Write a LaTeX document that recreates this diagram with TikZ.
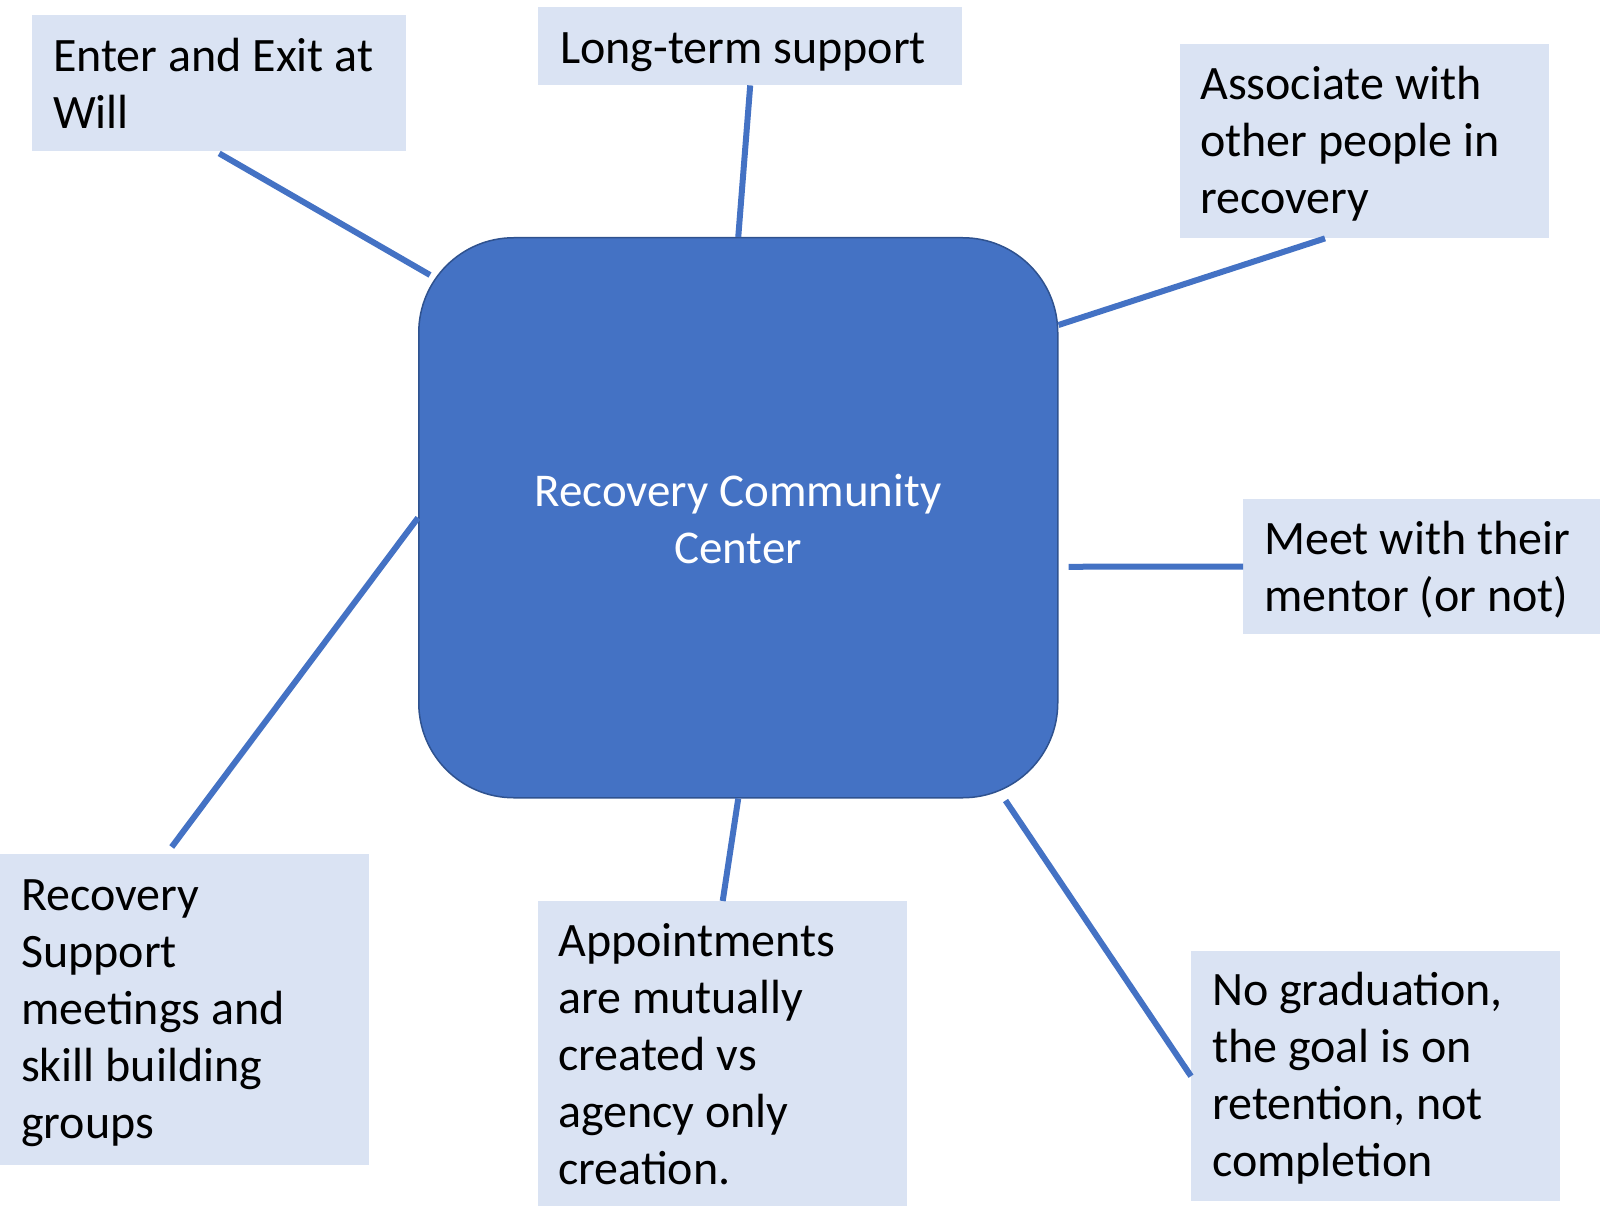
\documentclass[tikz,border=0pt]{standalone}
\usepackage{fontspec}
\setmainfont{Carlito}
\definecolor{boxfill}{HTML}{DAE3F3}
\definecolor{mainblue}{HTML}{4472C4}
\definecolor{mainborder}{HTML}{2F528F}
\begin{document}
\begin{tikzpicture}[x=1pt,y=-1pt,
  infobox/.style={fill=boxfill,draw=none,inner sep=0pt,anchor=north west},
  txt/.style={inner sep=0pt,align=left,anchor=base west,font=\fontsize{48}{57}\selectfont},
  link/.style={draw=mainblue,line width=6pt}]
\useasboundingbox (0,0) rectangle (1600,1206);
% central rounded box
\node[fill=mainblue,draw=mainborder,line width=1.5pt,rounded corners=95pt,
      minimum width=639pt,minimum height=560pt,inner sep=0pt,anchor=north west] (rcc) at (418,237) {};
\node[inner sep=0pt,align=center,anchor=base,text=white,font=\fontsize{47}{57}\selectfont] (rcct) at (738,563) {Recovery Community\\Center};
% boxes
\node[infobox,minimum width=374pt,minimum height=136pt] (b1) at (32,15) {};
\node[infobox,minimum width=424pt,minimum height=78pt] (b2) at (538,7) {};
\node[infobox,minimum width=369pt,minimum height=194pt] (b3) at (1180,44) {};
\node[infobox,minimum width=357pt,minimum height=135pt] (b4) at (1243,499) {};
\node[infobox,minimum width=369pt,minimum height=250pt] (b5) at (1191,951) {};
\node[infobox,minimum width=369pt,minimum height=305pt] (b6) at (538,901) {};
\node[infobox,minimum width=369pt,minimum height=311pt] (b7) at (0,854) {};
% texts (anchored at the baseline of their last line)
\node[txt] (t1) at (53,129) {Enter and Exit at\\Will};
\node[txt] (t2) at (560,64) {Long-term support};
\node[txt] (t3) at (1200,214) {Associate with\\other people in\\recovery};
\node[txt] (t4) at (1264,611) {Meet with their\\mentor (or not)};
\node[txt] (t5) at (1212,1176) {No graduation,\\the goal is on\\retention, not\\completion};
\node[txt] (t6) at (558,1184) {Appointments\\are mutually\\created vs\\agency only\\creation.};
\node[txt] (t7) at (21,1138) {Recovery\\Support\\meetings and\\skill building\\groups};
% connectors
\draw[link] ([yshift=-2pt]b1.south) -- ([shift={(12,38)}]rcc.north west);
\draw[link] (b2.south) -- (rcc.north);
\draw[link] ([xshift=145pt]b3.south west) -- ([shift={(0,88)}]rcc.north east);
\draw[link] ([shift={(10,49)}]rcc.east) -- (b4.west);
\draw[link] ([shift={(-53,2)}]rcc.south east) -- (b5.west);
\draw[link] (rcc.south) -- (b6.north);
\draw[link] (rcc.west) -- ([shift={(-13,-7)}]b7.north);
\end{tikzpicture}
\end{document}
